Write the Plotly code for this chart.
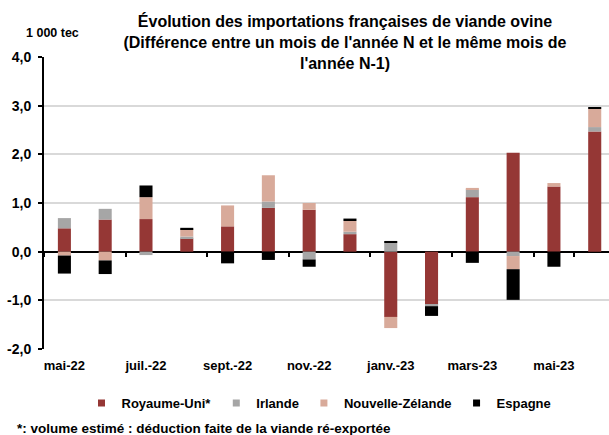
import plotly.graph_objects as go

months = ["mai-22", "juin-22", "juil.-22", "août-22", "sept.-22", "oct.-22", "nov.-22",
          "déc.-22", "janv.-23", "févr.-23", "mars-23", "avr.-23", "mai-23", "juin-23"]

royaume_uni = [0.48, 0.66, 0.67, 0.27, 0.52, 0.90, 0.86, 0.36, -1.34, -1.09, 1.12, 2.03, 1.34, 2.47]
irlande = [0.21, 0.22, -0.07, 0.04, 0.0, 0.13, -0.16, 0.05, 0.18, -0.03, 0.16, -0.09, 0.0, 0.09]
nouvelle_zelande = [-0.08, -0.18, 0.45, 0.15, 0.43, 0.54, 0.14, 0.22, -0.23, 0.0, 0.03, -0.27, 0.07, 0.38]
espagne = [-0.37, -0.28, 0.24, 0.03, -0.24, -0.17, -0.15, 0.05, 0.04, -0.20, -0.23, -0.63, -0.31, 0.02]

series_names = ["Royaume-Uni*", "Irlande", "Nouvelle-Zélande", "Espagne"]
series_values = [royaume_uni, irlande, nouvelle_zelande, espagne]
series_colors = ["#953735", "#A6A6A6", "#D8AA9A", "#000000"]

y_ticks = [-2, -1, 0, 1, 2, 3, 4]
y_ticktext = ["-2,0", "-1,0", "0,0", "1,0", "2,0", "3,0", "4,0"]

title_text = ("Évolution des importations françaises de viande ovine<br>"
              "(Différence entre un mois de l'année N et le même mois de<br>"
              "l'année N-1)")
unit_text = "1 000 tec"
note_text = "*: volume estimé : déduction faite de la viande ré-exportée"

FONT = "Liberation Sans, Arial, sans-serif"

fig = go.Figure()
for name, vals, col in zip(series_names, series_values, series_colors):
    fig.add_trace(go.Bar(x=months, y=vals, name=name, marker=dict(color=col, line=dict(width=0)),
                         showlegend=False))
# legend entries with small square symbols
for name, col in zip(series_names, series_colors):
    fig.add_trace(go.Scatter(x=[None], y=[None], mode="markers", name=name, xaxis="x2",
                             marker=dict(symbol="square", size=7, color=col), showlegend=True))

fig.update_layout(
    width=609, height=435,
    margin=dict(l=44, r=0, t=57, b=86),
    paper_bgcolor="white", plot_bgcolor="white",
    font=dict(family=FONT, size=13, color="#000000", weight="bold"),
    separators=", ",
    barmode="relative", bargap=0.68,
    title=dict(text=title_text, x=345 / 609, xanchor="center", xref="container",
               y=1 - 27 / 435, yanchor="top", yref="container",
               font=dict(family=FONT, size=16, color="#000000", weight="bold")),
    xaxis=dict(type="category", categoryorder="array", categoryarray=months,
               range=[-0.5, 13.35], tickvals=months[::2], ticks="", showgrid=False,
               showline=False, zeroline=False, ticklabelstandoff=7,
               tickfont=dict(size=13, weight="bold")),
    xaxis2=dict(type="category", categoryorder="array", categoryarray=months,
                range=[-0.5, 13.35], overlaying="x", anchor="free", position=1 / 3,
                tickvals=months[::2], tickson="boundaries", ticks="outside", ticklen=4,
                tickwidth=2, tickcolor="#000000", showticklabels=False, showgrid=False,
                showline=False, zeroline=False),
    yaxis=dict(range=[-2, 4], tickvals=y_ticks, ticktext=y_ticktext, showgrid=True,
               gridcolor="#D9D9D9", gridwidth=2, zeroline=True, zerolinecolor="#000000",
               zerolinewidth=2, showline=True, linecolor="#000000", linewidth=2,
               ticks="outside", ticklen=4, tickwidth=1.5, tickcolor="#000000",
               ticklabelstandoff=4, tickfont=dict(size=14, weight="bold")),
    legend=dict(orientation="h", x=(319 - 44) / 565, xanchor="center",
                y=-(403 - 349) / 292, yanchor="middle",
                font=dict(size=13, weight="bold"), itemwidth=30, tracegroupgap=0),
    annotations=[
        dict(text=unit_text, x=(24 - 44) / 565, xref="paper", xanchor="left",
             y=1 + (57 - 33) / 292, yref="paper", yanchor="middle", showarrow=False,
             font=dict(size=12.5, weight="bold")),
        dict(text=note_text, x=(15 - 44) / 565, xref="paper", xanchor="left",
             y=-(428 - 349) / 292, yref="paper", yanchor="middle", showarrow=False,
             font=dict(size=13.5, weight="bold")),
    ],
)

fig.write_html("out.html", config={"displayModeBar": False},
               post_script="document.body.style.margin='0';")
